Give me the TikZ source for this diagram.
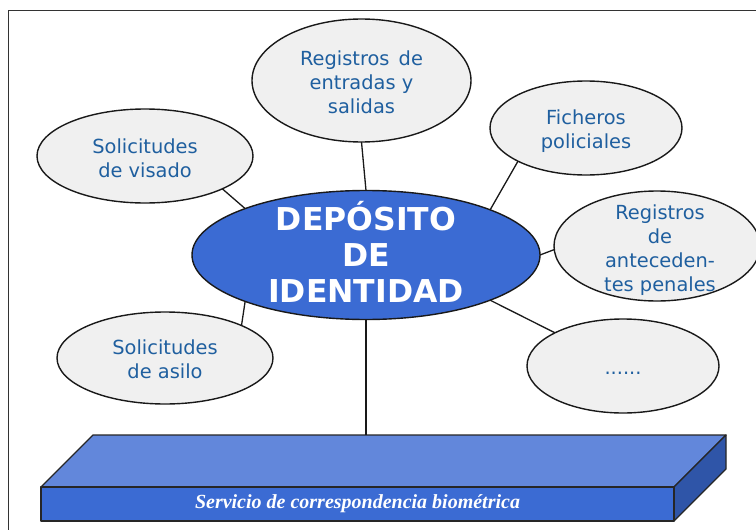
\documentclass[tikz,border=0pt]{standalone}
\usepackage{fontspec}
\setmainfont{DejaVu Sans}
\newfontfamily\svcfont{Liberation Serif}
\usetikzlibrary{shapes.geometric}
\definecolor{txtblue}{HTML}{1F5F9F}
\definecolor{bubble}{HTML}{F0F0F0}
\definecolor{core}{HTML}{3B6BD3}
\definecolor{boxtop}{HTML}{6287DB}
\definecolor{boxside}{HTML}{2F55A8}
\newcommand\flattxt[3][0pt]{\makebox[0pt]{\hspace*{#1}\raisebox{#2}[0pt][0pt]{\begin{tabular}{@{}c@{}}#3\end{tabular}}}}
\tikzset{
  x=1pt,y=-1pt,
  bubblenode/.style={ellipse,draw=black!90,line width=1.4pt,fill=bubble,inner sep=0pt,outer sep=0pt,
    text=txtblue,font=\fontsize{19.4}{24}\selectfont},
  corenode/.style={ellipse,draw=black!90,line width=1.4pt,fill=core,inner sep=0pt,outer sep=0pt,
    text=white,minimum width=348pt,minimum height=129pt,font=\bfseries\fontsize{31.5}{36}\selectfont},
  link/.style={draw=black!90,line width=1.3pt},
  boxedge/.style={draw=black!85,line width=1.3pt,line join=round}
}
\begin{document}
\begin{tikzpicture}
\useasboundingbox (0,0) rectangle (756,530);
\fill[white] (0,0) rectangle (756,530);
\draw[black!80,line width=1.5pt] (8.5,530) -- (8.5,10.5) -- (756,10.5);
% box
\draw[boxedge,fill=boxtop] (41,487) -- (93,435) -- (726,435) -- (674,487) -- cycle;
\draw[boxedge,fill=boxside] (674,487) -- (726,435) -- (726,469) -- (674,521) -- cycle;
\node[boxedge,fill=core,draw,minimum width=633pt,minimum height=34pt,inner sep=0pt,outer sep=0pt,text=white,
  font=\svcfont\bfseries\itshape\fontsize{20}{22}\selectfont] (front) at (357.5,504) {\raisebox{-1.5pt}{Servicio de correspondencia biométrica}};
\coordinate (svc) at (366,435);
% nodes
\node[bubblenode,minimum width=216pt,minimum height=94pt] (visado) at (145,156) {\flattxt{-10pt}{Solicitudes\\de visado}};
\node[bubblenode,minimum width=219pt,minimum height=123pt] (entradas) at (361.5,80.5) {\flattxt{-9pt}{Registros\hspace{3pt} de\\entradas y\\salidas}};
\node[bubblenode,minimum width=192pt,minimum height=94pt] (ficheros) at (586,128) {\flattxt{-9pt}{Ficheros\\policiales}};
\node[bubblenode,minimum width=206pt,minimum height=110pt] (penales) at (657,246) {\flattxt[6pt]{-10pt}{Registros\\de\\anteceden-\\tes penales}};
\node[bubblenode,minimum width=192pt,minimum height=94pt] (puntos) at (623,366) {\flattxt{-9pt}{......}};
\node[bubblenode,minimum width=216pt,minimum height=92pt] (asilo) at (165,358) {\flattxt{-9pt}{Solicitudes\\de asilo}};
\node[corenode] (deposito) at (366,255) {\flattxt{-9pt}{DEPÓSITO\\DE\\IDENTIDAD}};
% connectors
\draw[link] (visado.-23.8) -- (deposito.159.1);
\draw[link] (entradas.-90) -- (deposito.90);
\draw[link] (ficheros.206.9) -- (deposito.20.4);
\draw[link] (penales.182.8) -- (deposito.0);
\draw[link] (puntos.154.4) -- (deposito.-20.8);
\draw[link] (asilo.23.5) -- (deposito.201.5);
\draw[link] (deposito.-90) -- (svc);
\end{tikzpicture}
\end{document}
